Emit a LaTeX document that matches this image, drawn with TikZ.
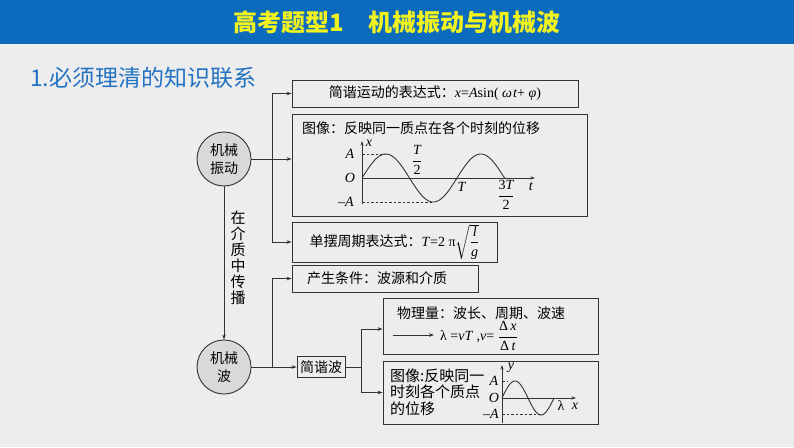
\documentclass[tikz,border=0pt]{standalone}
\usepackage{amsmath}
\usepackage{fontspec}
\setmainfont{Liberation Serif}
\newfontfamily\cjk{Noto Sans CJK SC}
\usetikzlibrary{arrows.meta}
\newcommand{\vi}[1]{\textit{#1}}
\definecolor{bgc}{HTML}{EDEDED}
\definecolor{hdr}{HTML}{0D6BBD}
\definecolor{ttl}{HTML}{F2F21E}
\definecolor{subc}{HTML}{2373C4}
\definecolor{lnc}{HTML}{333333}
\definecolor{circfill}{HTML}{D9D9D9}
\begin{document}
\begin{tikzpicture}[x=1pt,y=-1pt,
  ln/.style={draw=lnc, line width=0.9pt},
  arr/.style={ln, -{Stealth[length=5pt,width=3.6pt]}},
  axarr/.style={draw=lnc, line width=0.8pt, -{Stealth[length=4.5pt,width=3pt]}},
  dsh/.style={draw=lnc, line width=0.7pt, dash pattern=on 2.5pt off 2pt},
  box/.style={draw=lnc, line width=0.9pt, inner sep=0pt, rectangle},
  circ/.style={circle, draw=lnc, fill=circfill, line width=0.9pt, minimum size=54pt, inner sep=0pt, align=center, font=\cjk\fontsize{14}{18}\selectfont},
  txt/.style={font=\cjk\fontsize{14}{16}\selectfont, inner sep=0pt, text=black},
  lab/.style={font=\fontsize{14}{15}\selectfont, inner sep=0pt}
]
\useasboundingbox (0,0) rectangle (794,447);
\fill[bgc] (0,0) rectangle (794,447);
\fill[hdr] (0,0) rectangle (794,44);
\node[font=\cjk\bfseries\fontsize{24}{26}\selectfont, text=ttl, inner sep=0pt] (title) at (397,22) {高考题型1\quad 机械振动与机械波};
\node[anchor=west, font=\cjk\fontsize{23}{25}\selectfont, text=subc, inner sep=0pt] (sub) at (30,78) {1.必须理清的知识联系};

% circles
\node[circ] (c1) at (224,159) {机械\\振动};
\node[circ] (c2) at (224,367) {机械\\波};

% boxes
\node[box, minimum width=286pt, minimum height=27pt, txt] (b1) at (435,93.5) {简谐运动的表达式：{\rmfamily\fontsize{14}{16}\selectfont\vi{x}=\vi{A}sin( \vi{ω\kern1pt t}+ \vi{φ})}};
\node[box, minimum width=295pt, minimum height=102pt] (b2) at (439.5,165) {};
\node[box, minimum width=205pt, minimum height=40pt, txt] (b3) at (394.5,242) {单摆周期表达式：{\rmfamily\fontsize{14}{16}\selectfont\vi{T}=2 π$\sqrt{\dfrac{\text{\vi{l}}}{\text{\vi{g}}}}$}};
\node[box, minimum width=186pt, minimum height=27pt] (b4) at (385,278.5) {};
\node[box, minimum width=48pt, minimum height=21pt, txt] (sjb) at (321,367) {简谐波};
\node[box, minimum width=215pt, minimum height=56pt] (b5) at (490.5,326) {};
\node[box, minimum width=215pt, minimum height=63pt] (b6) at (490.5,392.5) {};

% box texts
\node[txt, anchor=west] (t4) at (307,278.5) {产生条件：波源和介质};
\node[txt, anchor=west] (t2) at (302,128) {图像：反映同一质点在各个时刻的位移};
\node[txt, anchor=west] (t5) at (397,313) {物理量：波长、周期、波速};
\node[txt, anchor=west, align=left, font=\cjk\fontsize{15}{16.5}\selectfont] (t6) at (390,392) {图像:反映同一\\时刻各个质点\\的位移};
\coordinate (pa) at (393,335);
\coordinate (pb) at (434,335);
\draw[arr] (pa) -- (pb);
\node[lab, anchor=west] (f5) at (440,336) {λ =\vi{vT} ,\vi{v}= $\dfrac{\text{Δ\,\itshape x}}{\text{Δ\,\itshape t}}$};

% vertical text
\node[txt, align=center, font=\cjk\fontsize{15}{16}\selectfont] (med) at (238,258) {在\\介\\质\\中\\传\\播};

% connectors
\coordinate (ja) at (272,93.5);
\coordinate (jb) at (272,242);
\draw[ln] (ja) -- (jb);
\draw[arr] (ja) -- (b1.west);
\draw[arr] (jb) -- (b3.west);
\draw[arr] (c1.east) -- (b2.west |- c1.east);
\draw[arr] (c1.south) -- (c2.north);
\coordinate (jc) at (272,278.5);
\coordinate (jd) at (272,367);
\draw[ln] (jc) -- (jd);
\draw[arr] (jc) -- (b4.west);
\draw[arr] (c2.east) -- (sjb.west);
\coordinate (je) at (361,367);
\coordinate (jf) at (361,329);
\coordinate (jg) at (361,392.5);
\draw[ln] (sjb.east) -- (je);
\draw[ln] (jf) -- (jg);
\draw[arr] (jf) -- (b5.west |- jf);
\draw[arr] (jg) -- (b6.west);

% graph 1
\coordinate (o1) at (362,178);
\draw[axarr] (362,204) -- (362,141);
\draw[axarr] (o1) -- (535,178);
\draw[dsh] (362,154) -- (386,154);
\draw[dsh] (362,202) -- (433,202);
\draw[draw=lnc, line width=0.9pt] plot[domain=0:142.5, samples=120, smooth] ({362+\x}, {178-24*sin(3.78947*\x)});
\node[lab] (g1A) at (350,154) {\vi{A}};
\node[lab] (g1O) at (350,178) {\vi{O}};
\node[lab] (g1mA) at (346,202) {–\vi{A}};
\node[lab] (g1x) at (369,143) {\vi{x}};
\node[lab] (g1T2) at (417,160) {$\dfrac{\text{\itshape T}}{\text{2}}$};
\node[lab] (g1T) at (462,187) {\vi{T}};
\node[lab] (g1T3) at (506,195) {$\dfrac{\text{3\itshape T}}{\text{2}}$};
\node[lab] (g1t) at (531,187) {\vi{t}};

% graph 2
\draw[axarr] (502,423) -- (502,365);
\draw[axarr] (502,398) -- (576,398);
\draw[dsh] (502,381) -- (508,381);
\draw[dsh] (502,414) -- (541,414);
\draw[draw=lnc, line width=0.9pt] plot[domain=0:52, samples=80, smooth] ({502+\x}, {398-17*sin(6.92308*\x)});
\node[lab] (g2y) at (511,368) {\vi{y}};
\node[lab] (g2A) at (494,381) {\vi{A}};
\node[lab] (g2O) at (494,398) {\vi{O}};
\node[lab] (g2mA) at (491,414) {–\vi{A}};
\node[lab] (g2l) at (561,406) {λ};
\node[lab] (g2x) at (575,406) {\vi{x}};
\end{tikzpicture}
\end{document}
